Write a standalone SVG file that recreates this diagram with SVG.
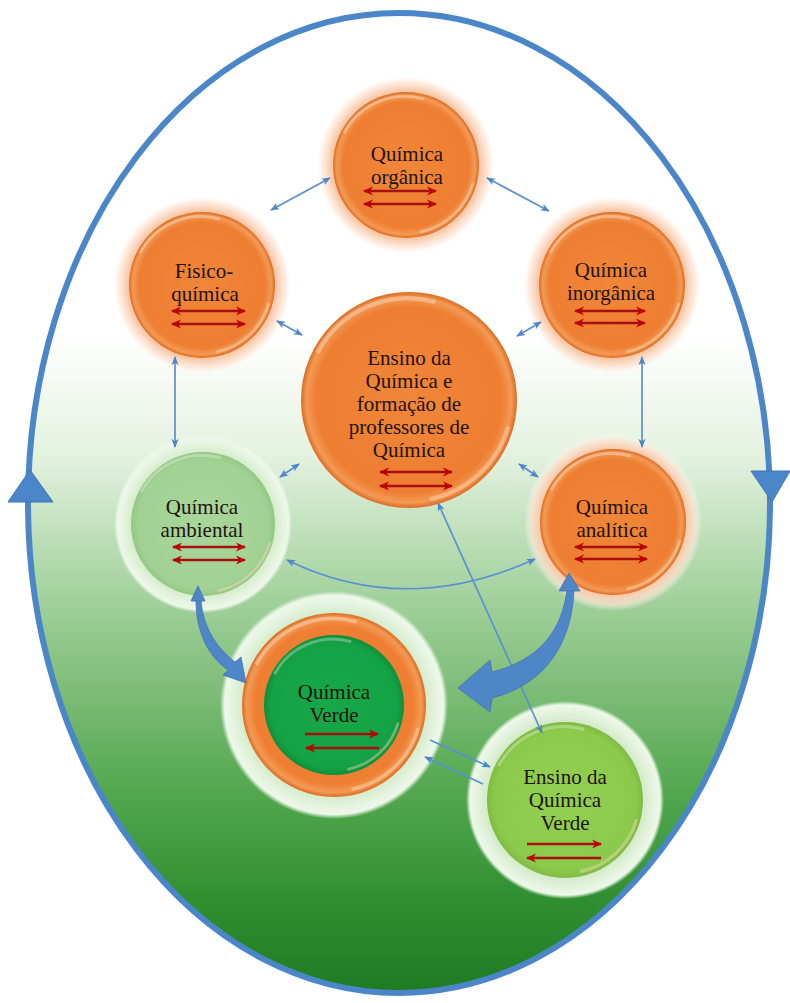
<svg xmlns="http://www.w3.org/2000/svg" xmlns:xlink="http://www.w3.org/1999/xlink" width="790" height="1003" viewBox="0 0 790 1003">
  <defs>
    <linearGradient id="bgGreen" gradientUnits="userSpaceOnUse" x1="0" y1="12" x2="0" y2="995">
      <stop offset="0" stop-color="#ffffff"/>
      <stop offset="0.33" stop-color="#ffffff"/>
      <stop offset="0.45" stop-color="#e4f2e0"/>
      <stop offset="0.55" stop-color="#b6dbb0"/>
      <stop offset="0.65" stop-color="#8dc587"/>
      <stop offset="0.78" stop-color="#58aa53"/>
      <stop offset="0.9" stop-color="#309031"/>
      <stop offset="1" stop-color="#1f7a22"/>
    </linearGradient>
    <radialGradient id="orangeFill" cx="50%" cy="50%" r="50%">
      <stop offset="0" stop-color="#f08639"/>
      <stop offset="0.86" stop-color="#ee7e31"/>
      <stop offset="0.95" stop-color="#f39a56"/>
      <stop offset="1" stop-color="#dc6b1f"/>
    </radialGradient>
    <radialGradient id="orangeHalo" cx="50%" cy="50%" r="50%">
      <stop offset="0.74" stop-color="#f6b081"/>
      <stop offset="0.84" stop-color="#f9cdb0"/>
      <stop offset="0.93" stop-color="#fde6d6" stop-opacity="0.7"/>
      <stop offset="1" stop-color="#ffffff" stop-opacity="0"/>
    </radialGradient>
    <radialGradient id="greenHalo" cx="50%" cy="50%" r="50%">
      <stop offset="0.7" stop-color="#c4e4b8"/>
      <stop offset="0.88" stop-color="#e2f2db"/>
      <stop offset="0.96" stop-color="#eef8ea"/>
      <stop offset="1" stop-color="#eef8ea" stop-opacity="0"/>
    </radialGradient>
    <radialGradient id="paleFill" cx="50%" cy="50%" r="50%">
      <stop offset="0" stop-color="#a9d69b"/>
      <stop offset="0.9" stop-color="#a2d293"/>
      <stop offset="1" stop-color="#93c783"/>
    </radialGradient>
    <radialGradient id="deepFill" cx="50%" cy="50%" r="50%">
      <stop offset="0" stop-color="#17a849"/>
      <stop offset="0.9" stop-color="#14a245"/>
      <stop offset="1" stop-color="#0e8f3b"/>
    </radialGradient>
    <radialGradient id="limeFill" cx="50%" cy="50%" r="50%">
      <stop offset="0" stop-color="#93d052"/>
      <stop offset="0.9" stop-color="#8cca4c"/>
      <stop offset="1" stop-color="#7fbb42"/>
    </radialGradient>

    <!-- bevel shine for a disc of radius 73, scaled per node -->
    <g id="shine">
      <path d="M -62,-32 A 69 69 0 0 1 18,-66" fill="none" stroke="#ffffff" stroke-opacity="0.3" stroke-width="3"/>
      <path d="M 67,18 A 69 69 0 0 1 14,67" fill="none" stroke="#ffe0c4" stroke-opacity="0.4" stroke-width="3"/>
    </g>

    <marker id="bh" viewBox="0 0 10 10" refX="9" refY="5" markerWidth="9" markerHeight="9" markerUnits="userSpaceOnUse" orient="auto-start-reverse">
      <path d="M0,1 L10,5 L0,9 L2.5,5 z" fill="#4f86c6"/>
    </marker>
    <marker id="rh" viewBox="0 0 10 10" refX="9" refY="5" markerWidth="10" markerHeight="10" markerUnits="userSpaceOnUse" orient="auto-start-reverse">
      <path d="M0,0.5 L10,5 L0,9.5 L3,5 z" fill="#c00000"/>
    </marker>

    <style>
      .lbl { font-family: "Liberation Serif", "Times New Roman", serif; font-size: 21px; fill: #1e120a; text-anchor: middle; }
      .rarr { stroke: #a80f0f; stroke-width: 2.5; fill: none; }
      .dbl { marker-start: url(#rh); marker-end: url(#rh); }
      .one { marker-end: url(#rh); }
      .conn { stroke: #5a8fd2; stroke-width: 1.7; fill: none; marker-start: url(#bh); marker-end: url(#bh); }
      .conn1 { stroke: #5a8fd2; stroke-width: 1.7; fill: none; marker-end: url(#bh); }
      .big { fill: #4f86c8; stroke: #3f74b4; stroke-width: 0.8; }
    </style>
  </defs>

  <rect x="0" y="0" width="790" height="1003" fill="#ffffff"/>

  <!-- outer cycle -->
  <g id="cycle">
    <ellipse cx="399" cy="503" rx="371" ry="490" fill="url(#bgGreen)" stroke="#4a86c8" stroke-width="6"/>
    <path d="M30,470 L53,502 L8,502 Z" fill="#4a86c8" stroke="#3f74b4" stroke-width="1"/>
    <path d="M751,471 L790,471 L772,502 Z" fill="#4a86c8" stroke="#3f74b4" stroke-width="1"/>
  </g>

  <g id="n-organica">
    <circle cx="406" cy="165" r="90" fill="url(#orangeHalo)"/>
    <circle cx="406" cy="165" r="73" fill="url(#orangeFill)"/>
    <use xlink:href="#shine" transform="translate(406,165)"/>
    <text class="lbl" x="407" y="161">Química</text>
    <text class="lbl" x="407" y="184">orgânica</text>
    <line class="rarr dbl" x1="364" y1="191" x2="436" y2="191"/>
    <line class="rarr dbl" x1="364" y1="204" x2="436" y2="204"/>
  </g>

  <g id="n-fisico">
    <circle cx="202" cy="285" r="90" fill="url(#orangeHalo)"/>
    <circle cx="202" cy="285" r="73" fill="url(#orangeFill)"/>
    <use xlink:href="#shine" transform="translate(202,285)"/>
    <text class="lbl" x="204" y="278">Fisico-</text>
    <text class="lbl" x="205" y="301">química</text>
    <line class="rarr dbl" x1="172" y1="311" x2="245" y2="311"/>
    <line class="rarr dbl" x1="172" y1="324" x2="245" y2="324"/>
  </g>

  <g id="n-inorganica">
    <circle cx="612" cy="285" r="90" fill="url(#orangeHalo)"/>
    <circle cx="612" cy="285" r="73" fill="url(#orangeFill)"/>
    <use xlink:href="#shine" transform="translate(612,285)"/>
    <text class="lbl" x="611" y="277">Química</text>
    <text class="lbl" x="611" y="300">inorgânica</text>
    <line class="rarr dbl" x1="575" y1="311" x2="645" y2="311"/>
    <line class="rarr dbl" x1="575" y1="323" x2="645" y2="323"/>
  </g>

  <g id="n-ensino">
    <circle cx="409" cy="400" r="108" fill="url(#orangeFill)"/>
    <use xlink:href="#shine" transform="translate(409,400) scale(1.48)"/>
    <text class="lbl" x="409" y="365">Ensino da</text>
    <text class="lbl" x="409" y="388">Química e</text>
    <text class="lbl" x="409" y="411">formação de</text>
    <text class="lbl" x="409" y="434">professores de</text>
    <text class="lbl" x="409" y="457">Química</text>
    <line class="rarr dbl" x1="380" y1="472" x2="452" y2="472"/>
    <line class="rarr dbl" x1="380" y1="486" x2="452" y2="486"/>
  </g>

  <g id="n-ambiental">
    <circle cx="203" cy="524" r="89" fill="url(#greenHalo)"/>
    <circle cx="203" cy="524" r="72" fill="url(#paleFill)"/>
    <use xlink:href="#shine" transform="translate(203,524)"/>
    <text class="lbl" x="202" y="514">Química</text>
    <text class="lbl" x="202" y="537">ambiental</text>
    <line class="rarr dbl" x1="173" y1="547" x2="245" y2="547"/>
    <line class="rarr dbl" x1="173" y1="560" x2="245" y2="560"/>
  </g>

  <g id="n-analitica">
    <circle cx="613" cy="522" r="89" fill="url(#orangeHalo)"/>
    <circle cx="613" cy="522" r="73" fill="url(#orangeFill)"/>
    <use xlink:href="#shine" transform="translate(613,522)"/>
    <text class="lbl" x="612" y="514">Química</text>
    <text class="lbl" x="612" y="537">analítica</text>
    <line class="rarr dbl" x1="575" y1="547" x2="647" y2="547"/>
    <line class="rarr dbl" x1="575" y1="559" x2="647" y2="559"/>
  </g>

  <g id="n-verde">
    <circle cx="334" cy="705" r="114" fill="url(#greenHalo)"/>
    <circle cx="334" cy="705" r="92" fill="url(#orangeFill)"/>
    <use xlink:href="#shine" transform="translate(334,705) scale(1.26)"/>
    <circle cx="334" cy="705" r="70" fill="url(#deepFill)"/>
    <use xlink:href="#shine" transform="translate(334,705) scale(0.96)"/>
    <text class="lbl" x="334" y="699">Química</text>
    <text class="lbl" x="334" y="722">Verde</text>
    <line class="rarr one" x1="305" y1="734" x2="378" y2="734"/>
    <line class="rarr one" x1="379" y1="748" x2="306" y2="748"/>
  </g>

  <g id="n-ensino-verde">
    <circle cx="565" cy="800" r="99" fill="url(#greenHalo)"/>
    <circle cx="565" cy="800" r="78" fill="url(#limeFill)"/>
    <use xlink:href="#shine" transform="translate(565,800) scale(1.07)"/>
    <text class="lbl" x="565" y="784">Ensino da</text>
    <text class="lbl" x="565" y="807">Química</text>
    <text class="lbl" x="565" y="830">Verde</text>
    <line class="rarr one" x1="527" y1="844" x2="601" y2="844"/>
    <line class="rarr one" x1="601" y1="858" x2="527" y2="858"/>
  </g>

  <!-- connectors -->
  <g id="connectors">
    <line class="conn" x1="330" y1="178" x2="271" y2="210"/>
    <line class="conn" x1="487" y1="178" x2="549" y2="211"/>
    <line class="conn" x1="277" y1="321" x2="302" y2="335"/>
    <line class="conn" x1="541" y1="322" x2="517" y2="336"/>
    <line class="conn" x1="175" y1="357" x2="175" y2="447"/>
    <line class="conn" x1="642" y1="357" x2="642" y2="447"/>
    <line class="conn" x1="280" y1="477" x2="299" y2="464"/>
    <line class="conn" x1="538" y1="477" x2="519" y2="464"/>
    <path class="conn" d="M287,560 Q405,618 535,559"/>
    <line class="conn" x1="438" y1="503" x2="542" y2="733"/>
    <line class="conn1" x1="430" y1="740" x2="490" y2="767"/>
    <line class="conn1" x1="483" y1="784" x2="425" y2="757"/>

    <!-- wide curved arrows into Química Verde -->
    <path class="big" d="M567,590 C562,630 540,660 492,672 L490,660 L458,688 L490,712 L492,698 C548,684 572,640 574,590 Z"/>
    <path class="big" d="M569,573 L580,591 L559,591 Z"/>
    <path class="big" d="M196,600 C196,632 208,656 228,670 L223,675 L246,683 L241,657 L235,662 C217,648 203,628 201,600 Z"/>
    <path class="big" d="M198,586 L205,601 L191,601 Z"/>
  </g>
</svg>
